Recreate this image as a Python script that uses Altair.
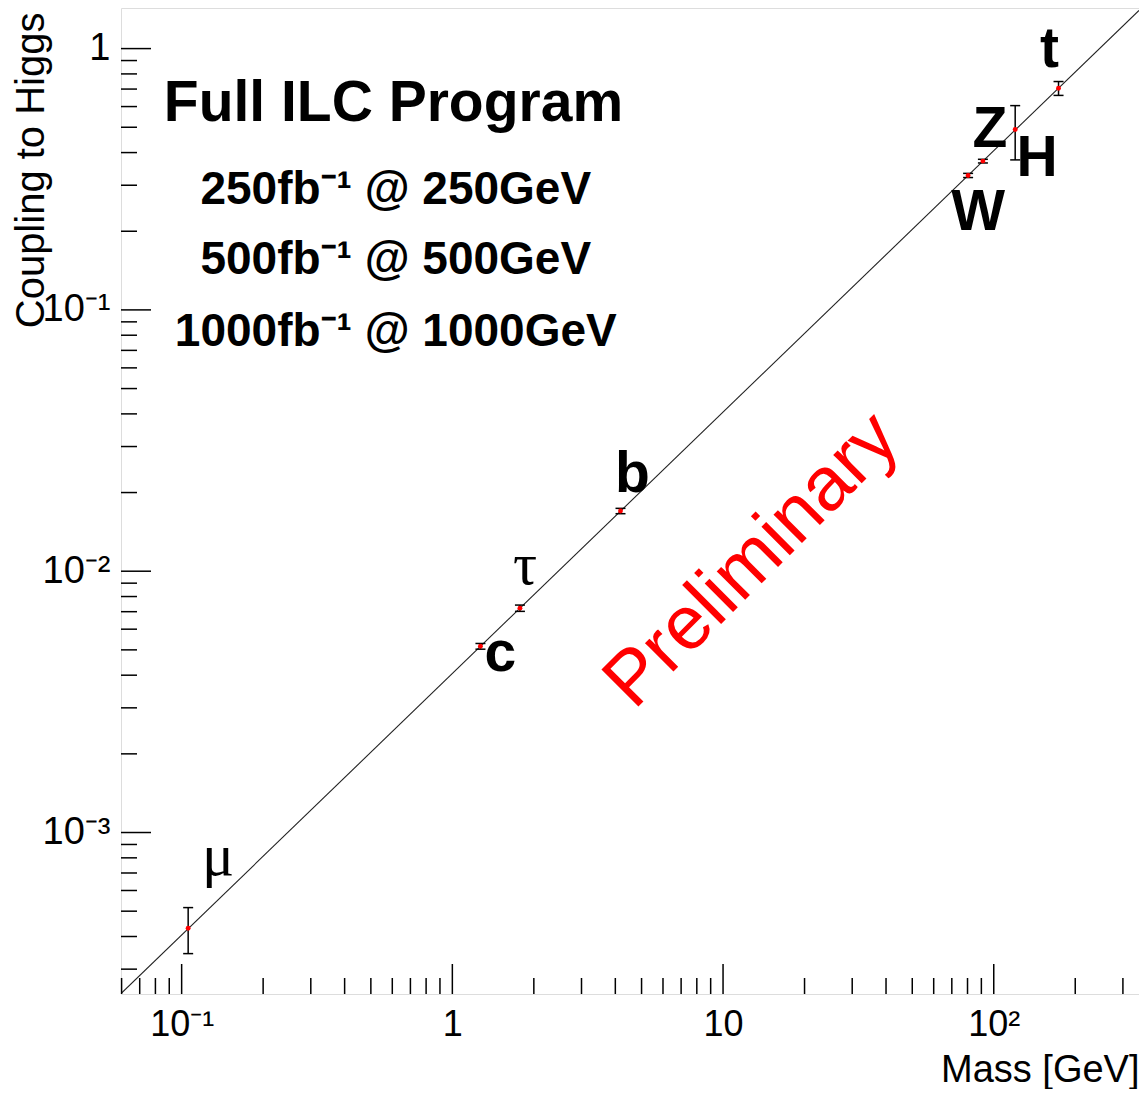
import json
import altair as alt
import pandas as pd

# ---------------- data ----------------
particles = ["μ", "c", "τ", "b", "W", "Z", "H", "t"]
mass = [0.1057, 1.27, 1.777, 4.18, 80.4, 91.19, 120.0, 173.5]
coupling = [4.30e-4, 5.16e-3, 7.22e-3, 0.0170, 0.327, 0.371, 0.490, 0.705]
error = [0.86e-4, 0.13e-3, 0.20e-3, 0.0004, 0.006, 0.006, 0.115, 0.043]

line_mass = [0.0597, 344.0]
line_coupling = [2.42e-4, 1.40]

x_domain = [0.0597, 344.0]
y_domain = [2.41e-4, 1.43]
x_major = [0.1, 1, 10, 100]
x_major_labels = ["10⁻¹", "1", "10", "10²"]
y_major = [1e-3, 1e-2, 1e-1, 1]
y_major_labels = ["10⁻³", "10⁻²", "10⁻¹", "1"]
x_minor = [m * 10.0 ** e for e in range(-2, 3) for m in range(2, 10)]
y_minor = [m * 10.0 ** e for e in range(-4, 1) for m in range(2, 10)]
x_minor = [v for v in x_minor if x_domain[0] < v < x_domain[1]]
y_minor = [v for v in y_minor if y_domain[0] < v < y_domain[1]]

lumi_lines = ["250fb⁻¹ @ 250GeV", "500fb⁻¹ @ 500GeV", "1000fb⁻¹ @ 1000GeV"]

W, H = 1018, 986
SANS = "Liberation Sans"
SERIF = "Liberation Serif"


def label_expr(vals, labels):
    expr = json.dumps(labels[-1], ensure_ascii=False)
    for i in range(len(vals) - 2, -1, -1):
        thr = (vals[i] * vals[i + 1]) ** 0.5
        expr = f"datum.value < {thr} ? {json.dumps(labels[i], ensure_ascii=False)} : ({expr})"
    return expr


xs = alt.Scale(type="log", domain=x_domain, nice=False)
ys = alt.Scale(type="log", domain=y_domain, nice=False)

xaxis = alt.Axis(
    values=x_major, labelExpr=label_expr(x_major, x_major_labels),
    ticks=False, domain=False, grid=False,
    labelFont=SANS, labelFontSize=36, labelColor="black", labelPadding=13,
    labelBaseline="top", labelAlign="center", labelFlush=False, labelOverlap=False,
    title="Mass [GeV]", titleFont=SANS, titleFontSize=38, titleFontWeight="normal",
    titleColor="black", titleX=W, titleY=87, titleAlign="right",
    titleBaseline="alphabetic", titleAnchor="end",
)
yaxis = alt.Axis(
    values=y_major, labelExpr=label_expr(y_major, y_major_labels),
    ticks=False, domain=False, grid=False,
    labelFont=SANS, labelFontSize=38, labelColor="black", labelPadding=11,
    labelBaseline="middle", labelAlign="right", labelFlush=False, labelOverlap=False,
    title="Coupling to Higgs", titleFont=SANS, titleFontSize=40, titleFontWeight="normal",
    titleColor="black", titleX=-78, titleY=4, titleAngle=270, titleAlign="right",
    titleBaseline="alphabetic", titleAnchor="end",
)


def X(field):
    return alt.X(field, type="quantitative", scale=xs, axis=xaxis)


def Y(field):
    return alt.Y(field, type="quantitative", scale=ys, axis=yaxis)


df = pd.DataFrame({
    "p": particles, "m": mass, "c": coupling,
    "lo": [c - e for c, e in zip(coupling, error)],
    "hi": [c + e for c, e in zip(coupling, error)],
})
line_df = pd.DataFrame({"m": line_mass, "c": line_coupling})
one = pd.DataFrame({"k": [0]})

layers = []

# diagonal line
layers.append(alt.Chart(line_df).mark_line(color="#222", strokeWidth=1.1, clip=True)
              .encode(x=X("m"), y=Y("c")))

# error bars
base = alt.Chart(df)
layers.append(base.mark_rule(color="black", strokeWidth=1.5)
              .encode(x=X("m"), y=Y("lo"), y2="hi:Q"))
for f in ["lo", "hi"]:
    layers.append(base.mark_rule(color="black", strokeWidth=1.5, xOffset=-5, x2Offset=5)
                  .encode(x=X("m"), x2="m:Q", y=Y(f)))
layers.append(base.mark_circle(color="red", size=24, opacity=1)
              .encode(x=X("m"), y=Y("c")))

# ticks (inside, ROOT style)
xt_major = pd.DataFrame({"v": x_major})
xt_minor = pd.DataFrame({"v": x_minor})
yt_major = pd.DataFrame({"v": y_major})
yt_minor = pd.DataFrame({"v": y_minor})
layers.append(alt.Chart(xt_major).mark_rule(color="black", strokeWidth=1.5)
              .encode(x=X("v"), y=alt.value(H), y2=alt.value(H - 30)))
layers.append(alt.Chart(xt_minor).mark_rule(color="black", strokeWidth=1.5)
              .encode(x=X("v"), y=alt.value(H), y2=alt.value(H - 16)))
layers.append(alt.Chart(yt_major).mark_rule(color="black", strokeWidth=1.5)
              .encode(y=Y("v"), x=alt.value(0), x2=alt.value(30)))
layers.append(alt.Chart(yt_minor).mark_rule(color="black", strokeWidth=1.5)
              .encode(y=Y("v"), x=alt.value(0), x2=alt.value(16)))

# particle labels (offsets from their points)
label_style = {
    "μ": (30, -53, SERIF, "normal", 60),
    "c": (20, 25, SANS, "bold", 57),
    "τ": (5, -24, SERIF, "normal", 60),
    "b": (12, -19, SANS, "bold", 57),
    "W": (10, 55, SANS, "bold", 57),
    "Z": (7, -14, SANS, "bold", 57),
    "H": (22, 46, SANS, "bold", 57),
    "t": (-9, -21, SANS, "bold", 57),
}
for p in particles:
    dx, dy, font, weight, size = label_style[p]
    layers.append(base.transform_filter(alt.datum.p == p)
                  .mark_text(dx=dx, dy=dy, font=font, fontWeight=weight, fontSize=size,
                             color="black", align="center", baseline="alphabetic")
                  .encode(x=X("m"), y=Y("c"), text="p:N"))

# annotations
layers.append(alt.Chart(one).mark_text(font=SANS, fontWeight="bold", fontSize=57,
                                       color="black", align="center", baseline="alphabetic")
              .encode(x=alt.datum(0.606), y=alt.datum(0.528), text=alt.value("Full ILC Program")))
for txt, yv in zip(lumi_lines, [0.2538, 0.1372, 0.0729]):
    layers.append(alt.Chart(one).mark_text(font=SANS, fontWeight="bold", fontSize=46,
                                           color="black", align="center", baseline="alphabetic")
                  .encode(x=alt.datum(0.618), y=alt.datum(yv), text=alt.value(txt)))
layers.append(alt.Chart(one).mark_text(font=SANS, fontSize=76, color="#ff0000",
                                       align="center", baseline="middle", angle=315)
              .encode(x=alt.datum(12.8), y=alt.datum(0.0110), text=alt.value("Preliminary")))

chart = alt.layer(*layers).properties(
    width=W, height=H,
    padding={"left": 113, "top": 0, "right": 0, "bottom": 95},
    autosize=alt.AutoSizeParams(type="none"),
).configure_view(stroke="black", strokeWidth=1.5).configure(background="white")

chart.save("out.html", embed_options={"renderer": "svg", "actions": False})
